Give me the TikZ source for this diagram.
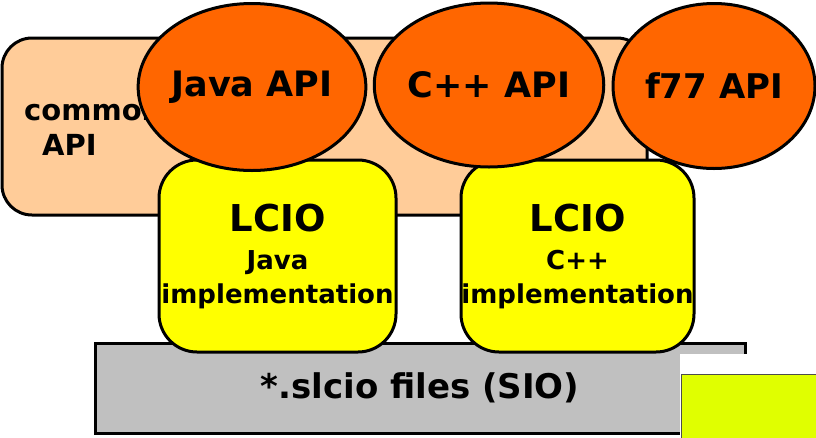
\documentclass[tikz,border=0pt]{standalone}
\usepackage{fontspec}
\setmainfont{DejaVu Sans}
\usetikzlibrary{shapes.geometric}
\definecolor{apiorange}{HTML}{FF6600}
\definecolor{peach}{HTML}{FFCC99}
\definecolor{implyellow}{HTML}{FFFF00}
\definecolor{filegrey}{HTML}{C0C0C0}
\definecolor{limeyellow}{HTML}{E0FF00}
\tikzset{
  outline/.style={draw=black, line width=3pt},
  api/.style={ellipse, outline, fill=apiorange, inner sep=0pt, font=\fontsize{35}{40}\selectfont\bfseries},
  impl/.style={rectangle, outline, rounded corners=38pt, fill=implyellow, minimum width=237pt, minimum height=192pt, inner sep=0pt, align=center, font=\fontsize{26}{34}\selectfont\bfseries},
}
\begin{document}
\begin{tikzpicture}[x=1pt,y=-1pt]
  \useasboundingbox (0,0) rectangle (816,437);
  % common API layer
  \node[outline, fill=peach, rounded corners=30pt, minimum width=645pt, minimum height=177pt] (common) at (324.5,126.5) {};
  \node[anchor=base west, align=left, inner sep=0pt, font=\fontsize{29}{35}\selectfont\bfseries] (commontext) at (24,155) {common\\\hspace{18pt}API};
  % file layer
  \node[outline, fill=filegrey, minimum width=650pt, minimum height=90pt, font=\fontsize{34}{40}\selectfont\bfseries] (slcio) at (420,388) {*.slcio files (SIO)};
  % implementations
  \node[impl] (javaimpl) at (277.5,256) {{\fontsize{37}{40}\selectfont LCIO}\\[4pt] Java\\ implementation};
  \node[impl, minimum width=233pt] (cppimpl) at (577.5,256) {{\fontsize{37}{40}\selectfont LCIO}\\[4pt] C++\\ implementation};
  % language bindings
  \node[api, minimum width=214pt, minimum height=167pt] (javaapi) at (252,87) {Java API};
  \node[api, minimum width=220pt, minimum height=164pt] (cppapi) at (489,85) {C++ API};
  \node[api, minimum width=202pt, minimum height=165pt, font=\fontsize{34}{40}\selectfont\bfseries] (fapi) at (714,86) {f77 API};
  % corner patch
  \fill[white] (680,354) rectangle (820,440);
  \draw[draw=black!70, line width=0.8pt, fill=limeyellow] (681,374) rectangle (820,440);
\end{tikzpicture}
\end{document}
